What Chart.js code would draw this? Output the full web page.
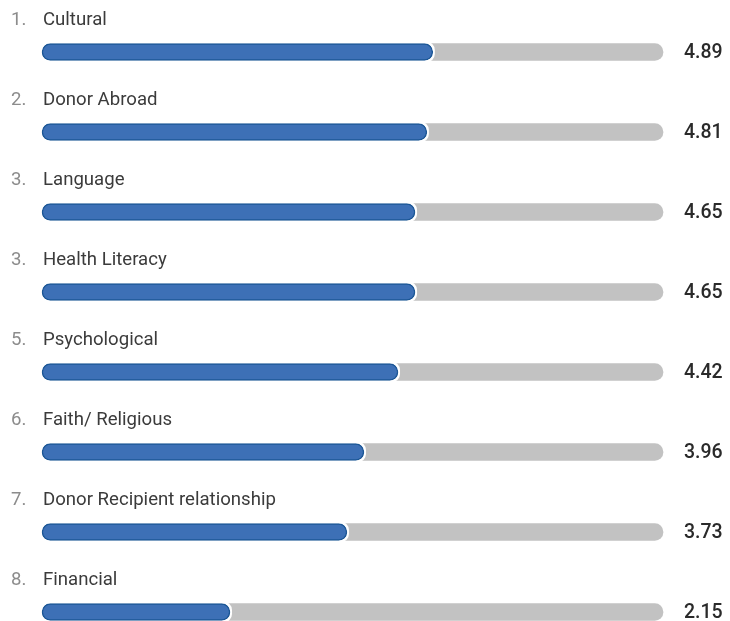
<!DOCTYPE html>
<html>
<head>
<meta charset="utf-8">
<script src="https://cdn.jsdelivr.net/npm/chart.js@4/dist/chart.umd.min.js"></script>
<style>
  html, body { margin: 0; padding: 0; background: #ffffff; }
  canvas { display: block; }
</style>
</head>
<body>
<canvas id="c" width="730" height="621"></canvas>
<script>
const ranks = ["1.", "2.", "3.", "3.", "5.", "6.", "7.", "8."];
const categories = ["Cultural", "Donor Abroad", "Language", "Health Literacy", "Psychological", "Faith/ Religious", "Donor Recipient relationship", "Financial"];
const scores = [4.89, 4.81, 4.65, 4.65, 4.42, 3.96, 3.73, 2.15];
const scaleMin = -0.39;
const scaleMax = 8;

const blueBars = scores.map(v => [scaleMin, v]);
const trackBars = scores.map(() => [scaleMin, scaleMax]);

const textPlugin = {
  id: 'rowText',
  afterDraw(chart) {
    const ctx = chart.ctx;
    const yScale = chart.scales.y;
    ctx.save();
    ctx.textBaseline = 'middle';
    categories.forEach((name, i) => {
      const y = yScale.getPixelForValue(i);
      ctx.textAlign = 'left';
      ctx.font = '18.6px Roboto';
      ctx.fillStyle = '#8c8c8c';
      ctx.fillText(ranks[i], 11, y - 32);
      ctx.fillStyle = '#3b3b3b';
      ctx.fillText(name, 43, y - 32);
      ctx.font = '500 19.5px Roboto';
      ctx.fillStyle = '#2a2a2a';
      ctx.fillText(scores[i].toFixed(2), 684, y + 1);
    });
    ctx.restore();
  }
};

new Chart(document.getElementById('c'), {
  type: 'bar',
  data: {
    labels: categories,
    datasets: [
      {
        data: blueBars,
        order: 0,
        grouped: false,
        barThickness: 17,
        backgroundColor: '#3d70b6',
        borderColor: '#1c5796',
        borderWidth: 1.5,
        borderRadius: 9,
        borderSkipped: false,
        clip: false
      },
      {
        data: blueBars,
        order: 1,
        grouped: false,
        barThickness: 17,
        inflateAmount: 2,
        backgroundColor: '#ffffff',
        borderWidth: 0,
        borderRadius: 10,
        borderSkipped: false,
        clip: false
      },
      {
        data: trackBars,
        order: 2,
        grouped: false,
        barThickness: 17,
        backgroundColor: '#c2c2c2',
        borderWidth: 0,
        borderRadius: 9,
        borderSkipped: false,
        clip: false
      }
    ]
  },
  options: {
    responsive: false,
    animation: false,
    indexAxis: 'y',
    layout: { padding: { left: 42, right: 67, top: 52, bottom: 9 } },
    plugins: { legend: { display: false }, tooltip: { enabled: false } },
    scales: {
      x: { display: false, min: scaleMin, max: scaleMax },
      y: { display: false, offset: false }
    }
  },
  plugins: [textPlugin]
});
</script>
</body>
</html>
